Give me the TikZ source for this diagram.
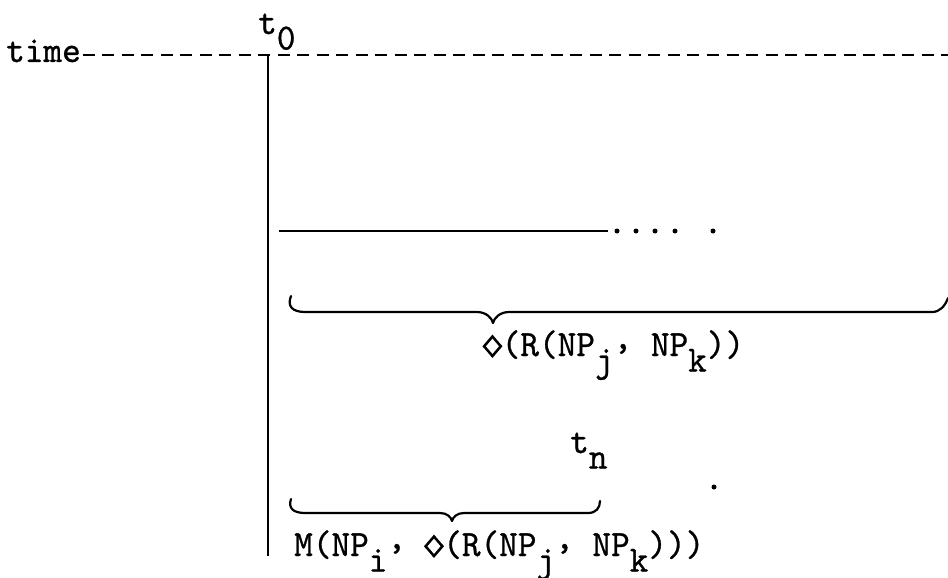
\documentclass[tikz,border=0pt]{standalone}
\usepackage{fontspec}
\usepackage{graphicx}
\usetikzlibrary{positioning}
\newfontfamily\tw{lmmono10-regular.otf}[FakeStretch=0.96,FakeBold=0.8]
\newcommand{\lowr}[1]{\raisebox{-0.42em}{#1}}
\newcommand{\cm}{\raisebox{0.2em}{,}}
\newcommand{\dia}{\makebox[0.5em]{\scalebox{0.9}[1.05]{\rotatebox{45}{%
  \setlength\fboxrule{2.6pt}\setlength\fboxsep{0pt}%
  \fbox{\rule{0pt}{10.5pt}\rule{10.5pt}{0pt}}}}}}

\begin{document}
\begin{tikzpicture}[x=1pt, y=-1pt,
  lbl/.style={font=\tw\fontsize{37}{37}\selectfont, inner sep=0pt, anchor=base west},
  rule/.style={line width=1.8pt},
  curly/.style={line width=2.2pt, line cap=round, line join=round},
  gap/.style={circle, fill, inner sep=0pt, minimum size=5pt}
]
\useasboundingbox (0,0) rectangle (948,578);

% time axis
\node[lbl] (time) at (6,62) {time};
\node[lbl] (t0) at (258,34) {t\lowr{0}};
\coordinate (tend) at (948,55);
\draw[rule, dash pattern=on 12pt off 7.5pt] ([xshift=2pt]time.east |- tend) -- (tend);

\coordinate (vtop) at (268,55);
\coordinate (vbot) at (268,556);
\draw[rule] (vtop) -- (vbot);

% line and trailing dots
\coordinate (h0) at (279,231);
\coordinate (h1) at (608,231);
\draw[rule] (h0) -- (h1);
\foreach \x [count=\i] in {617,636,655,675,713}
  \node[gap] (d\i) at (\x,231) {};

% first brace
\draw[curly] (291,296) .. controls (287,306) and (292,312) .. (305,312)
  -- (477,312) .. controls (486,312) and (492,318) .. (493,323)
  .. controls (494,318) and (500,312) .. (509,312)
  -- (932,312) .. controls (940,312) and (945,306) .. (948,298);
\node[lbl] (poss) at (483,356) {\dia(R(NP\lowr{j}\cm\ NP\lowr{k}))};

\node[lbl] (tn) at (570,453) {t\lowr{n}};
\node[gap] (mark) at (714,487) {};

% second brace
\draw[curly] (291,499) .. controls (288,508) and (293,513) .. (305,513)
  -- (440,513) .. controls (447,513) and (451,517) .. (452,521)
  .. controls (453,517) and (457,513) .. (464,513)
  -- (588,513) .. controls (596,513) and (600,508) .. (600,501);
\node[lbl] (modal) at (294,556) {M(NP\lowr{i}\cm\ \dia(R(NP\lowr{j}\cm\ NP\lowr{k})))};

\end{tikzpicture}
\end{document}
